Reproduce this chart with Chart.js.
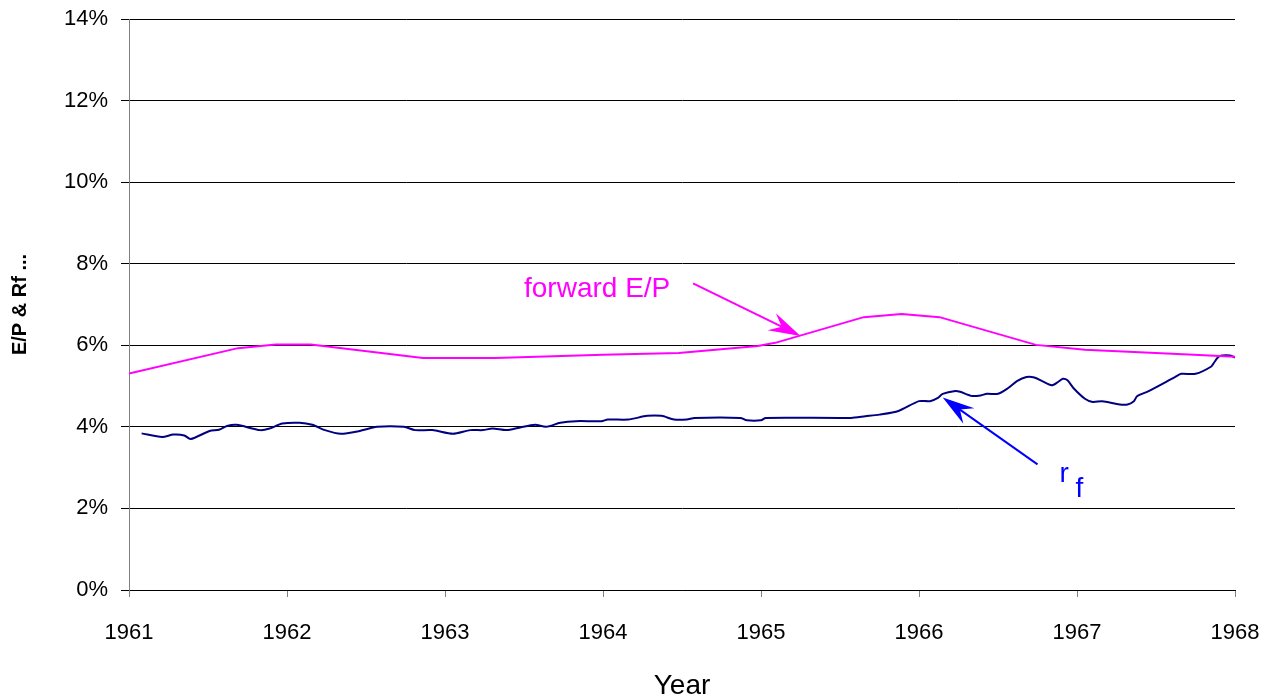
<!DOCTYPE html>
<html>
<head>
<meta charset="utf-8">
<title>E/P & Rf</title>
<script src="https://cdn.jsdelivr.net/npm/chart.js@4.4.1/dist/chart.umd.min.js"></script>
<style>
  html, body { margin: 0; padding: 0; background: #ffffff; }
  #wrap { width: 1275px; height: 700px; }
</style>
</head>
<body>
<div id="wrap"><canvas id="c" width="1275" height="700"></canvas></div>
<script>
// Risk-free rate (r_f), % per year
const rfYears = [
  1961.08, 1961.21, 1961.28, 1961.35, 1961.39, 1961.51, 1961.57, 1961.62, 1961.68, 1961.83,
  1961.89, 1961.97, 1962.08, 1962.16, 1962.24, 1962.34, 1962.46, 1962.57, 1962.74, 1962.81,
  1962.92, 1963.05, 1963.16, 1963.24, 1963.30, 1963.39, 1963.47, 1963.57, 1963.64, 1963.73,
  1963.83, 1963.99, 1964.03, 1964.16, 1964.28, 1964.37, 1964.45, 1964.53, 1964.58, 1964.87,
  1964.91, 1965.00, 1965.03, 1965.57, 1965.66, 1965.75, 1965.87, 1966.00, 1966.07, 1966.12,
  1966.15, 1966.23, 1966.26, 1966.33, 1966.39, 1966.43, 1966.50, 1966.56, 1966.62, 1966.68,
  1966.73, 1966.78, 1966.84, 1966.88, 1966.91, 1966.94, 1966.98, 1967.05, 1967.10, 1967.16,
  1967.27, 1967.32, 1967.36, 1967.38, 1967.45, 1967.62, 1967.66, 1967.75, 1967.85, 1967.87,
  1967.90, 1967.97, 1968.00
];
const rfValues = [
  3.84, 3.75, 3.81, 3.79, 3.70, 3.90, 3.93, 4.02, 4.05, 3.92,
  3.96, 4.08, 4.10, 4.05, 3.92, 3.83, 3.90, 4.00, 4.00, 3.92,
  3.92, 3.83, 3.92, 3.92, 3.96, 3.92, 3.98, 4.05, 4.00, 4.10,
  4.14, 4.14, 4.18, 4.18, 4.27, 4.27, 4.18, 4.18, 4.22, 4.22,
  4.16, 4.16, 4.22, 4.22, 4.26, 4.30, 4.39, 4.63, 4.63, 4.71,
  4.81, 4.88, 4.86, 4.76, 4.77, 4.81, 4.81, 4.94, 5.12, 5.22,
  5.21, 5.12, 5.02, 5.10, 5.18, 5.14, 4.94, 4.69, 4.61, 4.63,
  4.55, 4.55, 4.63, 4.75, 4.87, 5.22, 5.30, 5.30, 5.48, 5.59,
  5.73, 5.75, 5.70
];

// Forward earnings/price ratio, %
const epYears = [
  1961.00, 1961.69, 1961.93, 1962.15, 1962.86, 1963.32, 1964.00, 1964.48, 1964.98,
  1965.09, 1965.65, 1965.89, 1966.13, 1966.74, 1967.05, 1967.74, 1968.00
];
const epValues = [
  5.31, 5.93, 6.02, 6.02, 5.69, 5.69, 5.77, 5.81, 5.98,
  6.06, 6.69, 6.77, 6.69, 6.01, 5.89, 5.77, 5.72
];

// Axis ticks
const yearTicks = [1961, 1962, 1963, 1964, 1965, 1966, 1967, 1968];
const pctTicks = [0, 2, 4, 6, 8, 10, 12, 14];

// Callouts in data coordinates (year, %)
const epLabel = { text: 'forward E/P', x: 1963.50, y: 7.37 };
const epArrow = { from: [1964.57, 7.52], to: [1965.25, 6.23] };
const rfArrow = { from: [1966.75, 3.08], to: [1966.15, 4.72] };
const rfLabelMain = { text: 'r', x: 1966.89, y: 2.64 };
const rfLabelSub = { text: 'f', x: 1966.99, y: 2.27 };

const FONT = "Arial, 'Liberation Sans', sans-serif";
const MAGENTA = '#FF00FF';
const NAVY = '#000080';
const BLUE = '#0000FF';

const toPoints = (xs, ys) => xs.map((x, i) => ({ x: x, y: ys[i] }));

function drawArrow(ctx, x1, y1, x2, y2, color) {
  const dx = x2 - x1, dy = y2 - y1;
  const len = Math.hypot(dx, dy);
  const ux = dx / len, uy = dy / len;
  const px = -uy, py = ux;
  const back = 32, half = 9.5, notch = 21;
  ctx.save();
  ctx.strokeStyle = color;
  ctx.fillStyle = color;
  ctx.lineWidth = 2;
  ctx.beginPath();
  ctx.moveTo(x1, y1);
  ctx.lineTo(x2 - ux * notch, y2 - uy * notch);
  ctx.stroke();
  ctx.beginPath();
  ctx.moveTo(x2, y2);
  ctx.lineTo(x2 - ux * back + px * half, y2 - uy * back + py * half);
  ctx.lineTo(x2 - ux * notch, y2 - uy * notch);
  ctx.lineTo(x2 - ux * back - px * half, y2 - uy * back - py * half);
  ctx.closePath();
  ctx.fill();
  ctx.restore();
}

const callouts = {
  id: 'callouts',
  afterDatasetsDraw(chart) {
    const { ctx, scales } = chart;
    const X = v => scales.x.getPixelForValue(v);
    const Y = v => scales.y.getPixelForValue(v);
    ctx.save();
    ctx.font = '28px ' + FONT;
    ctx.textAlign = 'left';
    ctx.textBaseline = 'middle';
    ctx.fillStyle = MAGENTA;
    ctx.fillText(epLabel.text, X(epLabel.x), Y(epLabel.y));
    ctx.textBaseline = 'alphabetic';
    ctx.fillStyle = BLUE;
    ctx.fillText(rfLabelMain.text, X(rfLabelMain.x), Y(rfLabelMain.y));
    ctx.fillText(rfLabelSub.text, X(rfLabelSub.x), Y(rfLabelSub.y));
    ctx.restore();
    drawArrow(ctx, X(epArrow.from[0]), Y(epArrow.from[1]), X(epArrow.to[0]), Y(epArrow.to[1]), MAGENTA);
    drawArrow(ctx, X(rfArrow.from[0]), Y(rfArrow.from[1]), X(rfArrow.to[0]), Y(rfArrow.to[1]), BLUE);
  }
};

// Scale boxes are sized by hand; the outer gaps come from layout.padding only
const noOverflow = s => { s.paddingTop = 0; s.paddingBottom = 0; s.paddingLeft = 0; s.paddingRight = 0; };

new Chart(document.getElementById('c'), {
  type: 'line',
  data: {
    datasets: [
      {
        label: 'forward E/P',
        data: toPoints(epYears, epValues),
        borderColor: MAGENTA,
        borderWidth: 2,
        pointRadius: 0,
        tension: 0,
        fill: false
      },
      {
        label: 'r_f',
        data: toPoints(rfYears, rfValues),
        borderColor: NAVY,
        borderWidth: 2,
        pointRadius: 0,
        tension: 0.25,
        fill: false
      }
    ]
  },
  options: {
    responsive: false,
    animation: false,
    events: [],
    layout: { padding: { top: 19, right: 40, bottom: 0, left: 0 } },
    plugins: { legend: { display: false }, tooltip: { enabled: false } },
    scales: {
      x: {
        type: 'linear',
        min: yearTicks[0],
        max: yearTicks[yearTicks.length - 1],
        afterBuildTicks: s => { s.ticks = yearTicks.map(v => ({ value: v })); },
        afterFit: s => { s.height = 110; noOverflow(s); },
        ticks: {
          callback: v => String(v),
          color: '#000000',
          font: { family: FONT, size: 22 },
          padding: 23,
          maxRotation: 0
        },
        grid: {
          display: true,
          drawOnChartArea: false,
          drawTicks: true,
          tickLength: 7,
          color: '#808080',
          lineWidth: 1
        },
        border: { display: true, color: '#000000', width: 1 },
        title: {
          display: true,
          text: 'Year',
          color: '#000000',
          font: { family: FONT, size: 28, lineHeight: 1.0 },
          padding: { top: 0, bottom: 0 }
        }
      },
      y: {
        min: pctTicks[0],
        max: pctTicks[pctTicks.length - 1],
        afterBuildTicks: s => { s.ticks = pctTicks.map(v => ({ value: v })); },
        afterFit: s => { s.width = 129; noOverflow(s); },
        ticks: {
          callback: v => v + '%',
          color: '#000000',
          font: { family: FONT, size: 22 },
          padding: 13
        },
        grid: {
          color: '#000000',
          lineWidth: 1,
          tickLength: 8,
          drawTicks: true
        },
        border: { display: true, color: '#808080', width: 1 },
        title: {
          display: true,
          text: 'E/P & Rf ...',
          color: '#000000',
          font: { family: FONT, size: 20, weight: 'bold' },
          padding: { top: 8, bottom: 0 }
        }
      }
    }
  },
  plugins: [callouts]
});
</script>
</body>
</html>
